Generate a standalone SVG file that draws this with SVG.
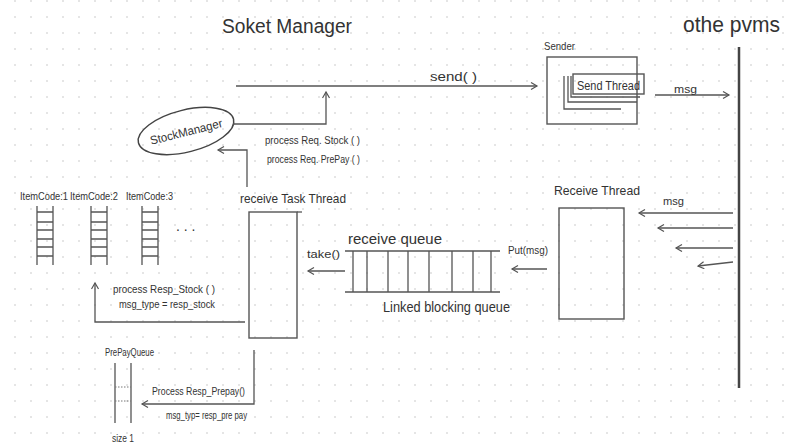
<svg xmlns="http://www.w3.org/2000/svg" width="795" height="448" viewBox="0 0 795 448">
<defs>
<pattern id="dots" x="7" y="-7" width="16" height="16" patternUnits="userSpaceOnUse">
<circle cx="8" cy="8" r="1" fill="#dcdcdc"/>
</pattern>
<marker id="ah" markerWidth="10" markerHeight="10" refX="7" refY="4" orient="auto" markerUnits="userSpaceOnUse">
<path d="M1,0.5 L7,4 L1,7.5" fill="none" stroke="#555" stroke-width="1.2"/>
</marker>
<style>
.ln{fill:none;stroke:#555;stroke-width:1.3}
.bx{fill:none;stroke:#555;stroke-width:1.4}
.t{font-family:"Liberation Sans","DejaVu Sans",sans-serif;fill:#333}
.conn{fill:none;stroke:#555;stroke-width:1.3;marker-end:url(#ah)}
</style>
</defs>
<rect width="795" height="448" fill="#fff"/>
<rect width="795" height="448" fill="url(#dots)"/>

<g id="title">
<text class="t" x="222" y="33" font-size="20" textLength="130" lengthAdjust="spacingAndGlyphs">Soket Manager</text>
</g>

<g id="other-pvms">
<text class="t" x="683" y="32" font-size="22" textLength="97" lengthAdjust="spacingAndGlyphs" fill="#222">othe pvms</text>
<line x1="739" y1="47" x2="739" y2="388" stroke="#444" stroke-width="2.5"/>
</g>

<g id="sender">
<text class="t" x="544" y="50" font-size="11" textLength="31" lengthAdjust="spacingAndGlyphs">Sender</text>
<rect class="bx" x="547" y="57" width="90" height="67"/>
<path class="ln" d="M564,76 V109 H621"/>
<path class="ln" d="M568,76 V102 H637"/>
<path class="ln" d="M571,76 V97 H640"/>
<rect class="bx" x="573" y="74" width="71" height="20" fill="#fff"/>
<text class="t" x="577" y="90" font-size="12" textLength="63" lengthAdjust="spacingAndGlyphs">Send Thread</text>
</g>

<g id="stock-manager">
<ellipse cx="186" cy="131" rx="49" ry="21" transform="rotate(-14 186 131)" fill="none" stroke="#444" stroke-width="1.5"/>
<text class="t" x="186" y="136" font-size="12" text-anchor="middle" transform="rotate(-14 186 131)" textLength="74" lengthAdjust="spacingAndGlyphs">StockManager</text>
</g>

<g id="receive-task-thread">
<text class="t" x="240" y="203" font-size="13" textLength="106" lengthAdjust="spacingAndGlyphs">receive Task Thread</text>
<rect class="bx" x="249" y="212" width="48" height="126"/>
<line class="ln" x1="297" y1="212" x2="302" y2="212"/>
</g>

<g id="receive-queue">
<text class="t" x="348" y="244" font-size="14" textLength="94" lengthAdjust="spacingAndGlyphs">receive queue</text>
<line class="ln" x1="345" y1="251" x2="500" y2="251"/>
<line class="ln" x1="345" y1="292" x2="500" y2="292"/>
<path class="ln" d="M353,251V292 M367,251V292 M388,251V292 M408,251V292 M429,251V292 M452,251V292 M473,251V292 M491,251V292"/>
<text class="t" x="383" y="312" font-size="14" textLength="127" lengthAdjust="spacingAndGlyphs">Linked blocking queue</text>
</g>

<g id="receive-thread">
<text class="t" x="554" y="195" font-size="13" textLength="86" lengthAdjust="spacingAndGlyphs">Receive Thread</text>
<rect class="bx" x="559" y="208" width="65" height="111"/>
</g>

<g id="item-queues">
<text class="t" x="20" y="200" font-size="10" textLength="48" lengthAdjust="spacingAndGlyphs">ItemCode:1</text>
<text class="t" x="70" y="200" font-size="10" textLength="48" lengthAdjust="spacingAndGlyphs">ItemCode:2</text>
<text class="t" x="126" y="200" font-size="10" textLength="47" lengthAdjust="spacingAndGlyphs">ItemCode:3</text>
<path class="ln" d="M37,206V265 M53,206V265 M37,212H53 M37,222H53 M37,230H53 M37,239H53 M37,247H53 M37,256H53"/>
<path class="ln" d="M91,206V265 M107,206V265 M91,212H107 M91,222H107 M91,230H107 M91,239H107 M91,247H107 M91,256H107"/>
<path class="ln" d="M142,206V265 M158,206V265 M142,212H158 M142,222H158 M142,230H158 M142,239H158 M142,247H158 M142,256H158"/>
<text class="t" x="176" y="231" font-size="14">. . .</text>
</g>

<g id="prepay-queue">
<text class="t" x="105" y="356" font-size="10" textLength="49" lengthAdjust="spacingAndGlyphs">PrePayQueue</text>
<path class="ln" d="M115,363V423 M131,363V423"/>
<path d="M115,387H131 M115,401H131" fill="none" stroke="#777" stroke-width="1" stroke-dasharray="1.5,1.5"/>
<text class="t" x="112" y="442" font-size="11" textLength="22" lengthAdjust="spacingAndGlyphs">size 1</text>
</g>

<g id="connectors">
<path class="conn" d="M236,86 H537"/>
<path class="conn" d="M233,124 H326 V92"/>
<path class="conn" d="M247,187 V150 H218"/>
<path class="conn" d="M655,95 H729"/>
<path class="conn" d="M345,271 H308"/>
<path class="conn" d="M547,269 H512"/>
<path class="conn" d="M733,213 H639"/>
<path class="conn" d="M733,228 H658"/>
<path class="conn" d="M733,248 H676"/>
<path class="conn" d="M733,262 L698,266"/>
<path class="conn" d="M245,322 H95 V283"/>
<path class="conn" d="M254,350 V404 H142"/>
</g>

<g id="labels">
<text class="t" x="430" y="81" font-size="12" textLength="47" lengthAdjust="spacingAndGlyphs">send( )</text>
<text class="t" x="674" y="93" font-size="11" textLength="23" lengthAdjust="spacingAndGlyphs">msg</text>
<text class="t" x="265" y="144" font-size="10" textLength="95" lengthAdjust="spacingAndGlyphs">process Req. Stock ( )</text>
<text class="t" x="267" y="163" font-size="10" textLength="93" lengthAdjust="spacingAndGlyphs">process Req. PrePay ( )</text>
<text class="t" x="307" y="258" font-size="11" textLength="33" lengthAdjust="spacingAndGlyphs">take()</text>
<text class="t" x="508" y="254" font-size="10" textLength="40" lengthAdjust="spacingAndGlyphs">Put(msg)</text>
<text class="t" x="663" y="205" font-size="11" textLength="21" lengthAdjust="spacingAndGlyphs">msg</text>
<text class="t" x="113" y="293" font-size="11" textLength="102" lengthAdjust="spacingAndGlyphs">process Resp_Stock ( )</text>
<text class="t" x="119" y="308" font-size="10" textLength="96" lengthAdjust="spacingAndGlyphs">msg_type = resp_stock</text>
<text class="t" x="152" y="395" font-size="11" textLength="93" lengthAdjust="spacingAndGlyphs">Process Resp_Prepay()</text>
<text class="t" x="166" y="419" font-size="10" textLength="81" lengthAdjust="spacingAndGlyphs">msg_typ= resp_pre pay</text>
</g>
</svg>
